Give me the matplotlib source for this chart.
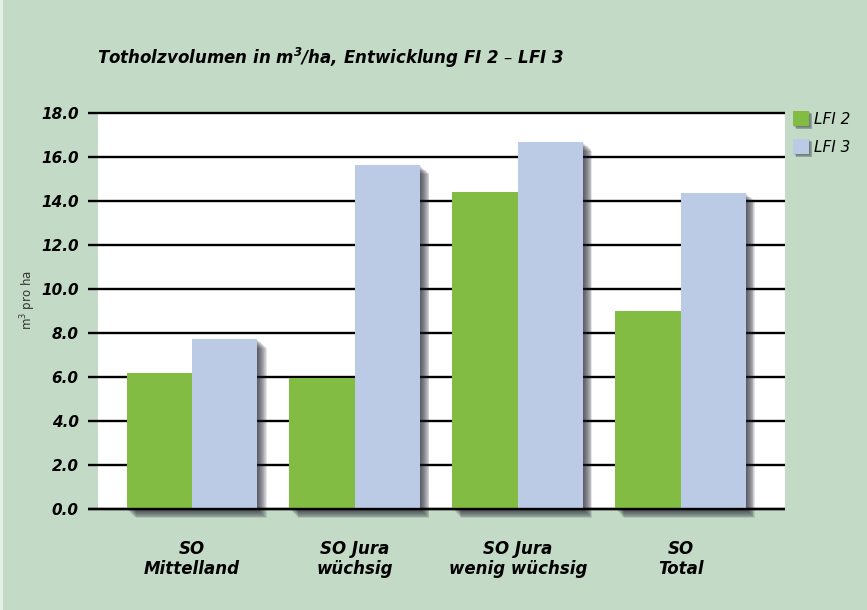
import matplotlib.pyplot as plt
import matplotlib.patheffects as pe
import numpy as np

# Data
categories = ['SO\nMittelland', 'SO Jura\nwüchsig', 'SO Jura\nwenig wüchsig', 'SO\nTotal']
lfi2 = [6.2, 5.95, 14.42, 9.02]
lfi3 = [7.75, 15.65, 16.7, 14.38]
series_names = ['LFI 2', 'LFI 3']
yticks = [0, 2, 4, 6, 8, 10, 12, 14, 16, 18]

# Colors
bg_color = '#c3dbc6'
green = '#82bc43'
blue = '#bbcbe5'

W, H = 867, 610
fig = plt.figure(figsize=(W / 100, H / 100), dpi=100)
fig.patch.set_facecolor(bg_color)

# thin light strip on the left edge
fig.add_artist(plt.Rectangle((0, 0), 3 / W, 1, transform=fig.transFigure,
                             facecolor='#e6efe7', edgecolor='none'))

ax = fig.add_axes([98 / W, 1 - 509.3 / H, (785 - 98) / W, (509.3 - 113.3) / H])
ax.set_facecolor('white')

x = np.arange(len(categories))
bw = 0.402


def shadow_effects(n=10, step=0.65, alpha=0.11):
    effs = []
    for k in range(1, n + 1):
        effs.append(pe.SimplePatchShadow(offset=(k * step, -k * step),
                                         shadow_rgbFace='#1a1a2a', alpha=alpha))
    effs.append(pe.Normal())
    return effs


for i in range(len(categories)):
    b1 = ax.bar(x[i] - bw / 2, lfi2[i], width=bw, color=green, zorder=3,
                clip_on=False, label=series_names[0] if i == 0 else None)
    b2 = ax.bar(x[i] + bw / 2, lfi3[i], width=bw, color=blue, zorder=4,
                clip_on=False, label=series_names[1] if i == 0 else None)
    for p in list(b1) + list(b2):
        p.set_path_effects(shadow_effects())

ax.set_xlim(-0.577, 3.64)
ax.set_ylim(0, 18)

# gridlines drawn as black lines reaching into the margin
for yv in yticks:
    ax.plot([-0.64, 3.64], [yv, yv], color='black', lw=1.7, zorder=2,
            clip_on=False, solid_capstyle='butt')
ax.plot([-0.64, 3.64], [0, 0], color='black', lw=1.7, zorder=6,
        clip_on=False, solid_capstyle='butt')

for s in ax.spines.values():
    s.set_visible(False)
ax.set_yticks(yticks)
ax.set_yticklabels(['%.1f' % v for v in yticks], fontsize=11,
                   fontweight='bold', fontstyle='italic')
ax.tick_params(axis='y', length=0, pad=14)
ax.set_xticks(x)
ax.set_xticklabels(categories, fontsize=12, fontweight='bold',
                   fontstyle='italic', linespacing=1.15)
ax.tick_params(axis='x', length=0, pad=22)

fig.text(28 / W, 1 - 300 / H, 'm$^3$ pro ha', rotation=90, ha='center',
         va='center', fontsize=8.5, color='#333333')

fig.text(97 / W, 1 - 58 / H,
         'Totholzvolumen in m$^{\\mathregular{3}}$/ha, Entwicklung FI 2 – LFI 3',
         fontsize=12, fontweight='bold', fontstyle='italic', va='center')

# legend
for j, (name, col) in enumerate(zip(series_names, [green, blue])):
    y0 = 1 - (126 + j * 28) / H
    sq = plt.Rectangle((793 / W, y0), 16 / W, 15 / H, transform=fig.transFigure,
                       facecolor=col, edgecolor='none')
    sq.set_path_effects(shadow_effects(n=4, step=0.6, alpha=0.15))
    fig.add_artist(sq)
    fig.text(814 / W, y0 + 7 / H, name, fontsize=11, fontstyle='italic',
             va='center')

fig.savefig('out.png', dpi=100, facecolor=fig.get_facecolor())
